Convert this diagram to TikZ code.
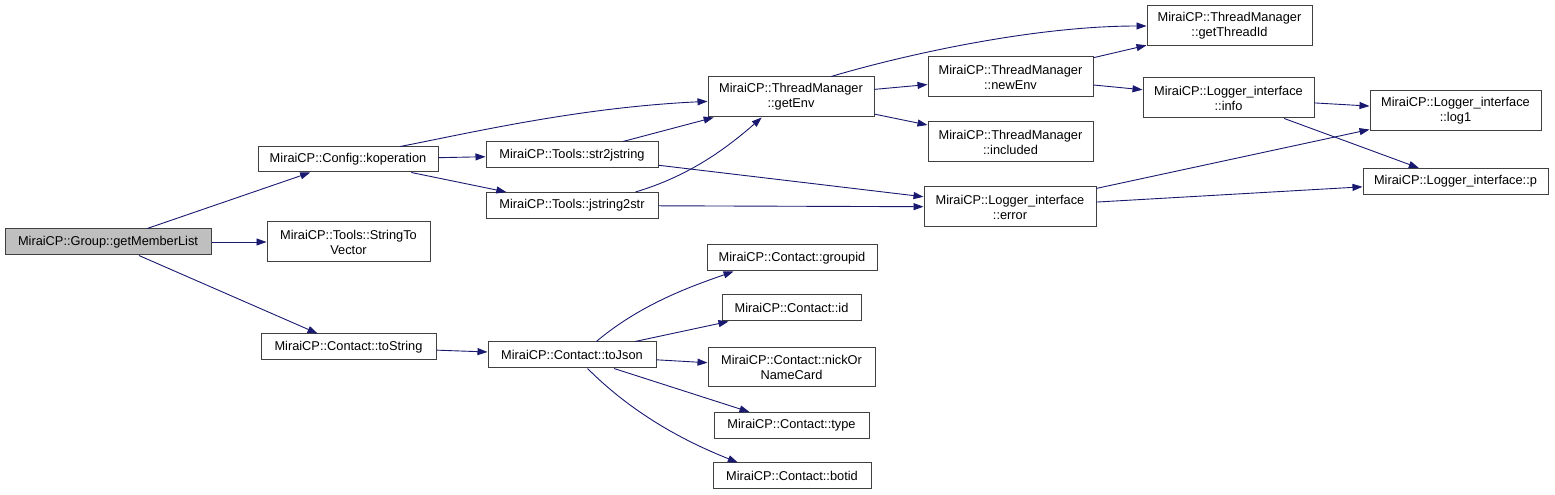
\documentclass[tikz,border=0pt]{standalone}
\usepackage{fontspec}
\setmainfont{Liberation Sans}
\usetikzlibrary{arrows.meta}
\definecolor{edgec}{HTML}{191970}
\definecolor{boxc}{HTML}{404040}
\definecolor{hl}{HTML}{BFBFBF}
\tikzset{
  bx/.style 2 args={draw=boxc, line width=1pt, fill=white, inner sep=0pt,
    minimum width=#1, minimum height=#2, align=center,
    font=\fontsize{12.8pt}{15pt}\selectfont},
  edge/.style={draw=edgec, line width=0.9pt, -{Triangle[length=10pt,width=7pt]}},
}
\begin{document}
\begin{tikzpicture}[x=1pt,y=1pt]
\useasboundingbox (0,0) rectangle (1555,495);
% nodes
\node[bx={206pt}{26pt}, fill=hl] (gml) at (108,253) {MiraiCP::Group::getMemberList};
\node[bx={180pt}{25pt}] (kop) at (348,335.5) {MiraiCP::Config::koperation};
\node[bx={163pt}{40pt}] (stv) at (348.5,253) {MiraiCP::Tools::StringTo\\Vector};
\node[bx={175pt}{26pt}] (tos) at (348.5,148) {MiraiCP::Contact::toString};
\node[bx={172pt}{26pt}] (s2j) at (572,340) {MiraiCP::Tools::str2jstring};
\node[bx={172pt}{26pt}] (j2s) at (572,289.5) {MiraiCP::Tools::jstring2str};
\node[bx={166pt}{40pt}] (genv) at (791,398) {MiraiCP::ThreadManager\\::getEnv};
\node[bx={165pt}{40pt}] (tid) at (1229.5,469) {MiraiCP::ThreadManager\\::getThreadId};
\node[bx={165pt}{40pt}] (newEnv) at (1010.5,418) {MiraiCP::ThreadManager\\::newEnv};
\node[bx={165pt}{40pt}] (included) at (1010.5,353) {MiraiCP::ThreadManager\\::included};
\node[bx={171pt}{40pt}] (info) at (1228.5,397) {MiraiCP::Logger\_interface\\::info};
\node[bx={171pt}{40pt}] (log1) at (1455.5,384) {MiraiCP::Logger\_interface\\::log1};
\node[bx={185pt}{26pt}] (p) at (1455.5,313.5) {MiraiCP::Logger\_interface::p};
\node[bx={172pt}{40pt}] (error) at (1010,288) {MiraiCP::Logger\_interface\\::error};
\node[bx={168pt}{26pt}] (toJson) at (572,140) {MiraiCP::Contact::toJson};
\node[bx={170pt}{26pt}] (groupid) at (792,237) {MiraiCP::Contact::groupid};
\node[bx={139pt}{26pt}] (id) at (791.5,187) {MiraiCP::Contact::id};
\node[bx={167pt}{39pt}] (nick) at (791.5,127.5) {MiraiCP::Contact::nickOr\\NameCard};
\node[bx={155pt}{26pt}] (type) at (791.5,69.5) {MiraiCP::Contact::type};
\node[bx={158pt}{26pt}] (botid) at (792,19) {MiraiCP::Contact::botid};
% edges
\draw[edge] (gml) -- (kop);
\draw[edge] (gml) -- (stv);
\draw[edge] (gml) -- (tos);
\draw[edge] (kop.14) .. controls +(72,14) and +(-128,-6) .. (genv.183);
\draw[edge] (kop) -- (s2j);
\draw[edge] (kop) -- (j2s);
\draw[edge] (s2j) -- (genv);
\draw[edge] (s2j) -- (error);
\draw[edge] (j2s.12) .. controls +(50,15) and +(-40,-35) .. (genv.215);
\draw[edge] (j2s) -- (error);
\draw[edge] (genv.27) .. controls +(60,18) and +(-120,0) .. (tid.west);
\draw[edge] (genv) -- (newEnv);
\draw[edge] (genv) -- (included);
\draw[edge] (newEnv) -- (tid);
\draw[edge] (newEnv) -- (info);
\draw[edge] (info) -- (log1);
\draw[edge] (info) -- (p);
\draw[edge] (error) -- (log1);
\draw[edge] (error) -- (p);
\draw[edge] (tos) -- (toJson);
\draw[edge] (toJson.29) .. controls +(45,38) and +(-40,-14) .. (groupid.193);
\draw[edge] (toJson) -- (id);
\draw[edge] (toJson) -- (nick);
\draw[edge] (toJson) -- (type);
\draw[edge] (toJson.-41) .. controls +(50,-50) and +(-45,18) .. (botid.166);
\end{tikzpicture}
\end{document}
